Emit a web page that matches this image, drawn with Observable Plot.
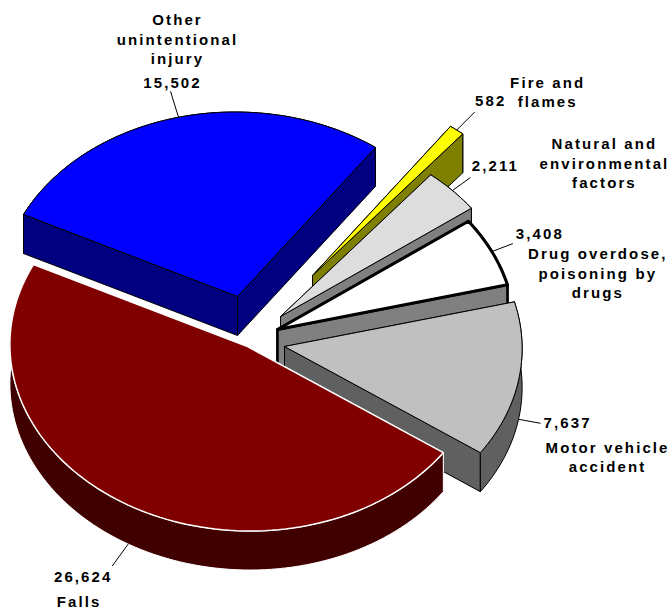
<!DOCTYPE html>
<html>
<head>
<meta charset="utf-8">
<script src="https://cdn.jsdelivr.net/npm/d3@7"></script>
<script src="https://cdn.jsdelivr.net/npm/@observablehq/plot@0.6"></script>
<style>
html,body{margin:0;padding:0;background:#fff;overflow:hidden}
svg{display:block}
</style>
</head>
<body>
<div id="chart"></div>
<script>
// Data, in pie order
const categories = ["Other\nunintentional\ninjury", "Fire and\nflames", "Natural and\nenvironmental\nfactors", "Drug overdose,\npoisoning by\ndrugs", "Motor vehicle\naccident", "Falls"];
const values = [15502, 582, 2211, 3408, 7637, 26624];

// Styles
const topColors = ["#0000ff", "#ffff00", "#dddddd", "#ffffff", "#c0c0c0", "#800000"];
const wallColors = ["#000080", "#808000", "#808080", "#808080", "#606060", "#400000"];
const edgeColors = ["#000", "#000", "#000", "#000", "#000", "#fff"];
const edgeWidths = [1, 1, 1, 3, 1, 1.5];
const wallEdgeWidths = [1, 1, 1, 2.5, 1, 1];

// Layout: how far each slice is pulled from the pie centre, and where its labels sit
const center = [265, 330];
const pullX = [-28, 47, 15, 12, 19, -18];
const pullY = [-34, -55, -14, -1, 16, 16];
const depth = 39;
const axisA = [-214, -82];
const axisB = [103.3, -165.3];
const frontFacing = [false, false, false, false, true, true];
const leaderDx = [-8, 18, 18, 21, 22, -16];
const leaderDy = [-26, -18, -13, -8, 4, 22];
const valueDx = [-6, 34, 43, 48, 49, -45];
const valueDy = [-36, -30, -26, -19, 2, 32];
const nameDx = [-1, 91, 152, 106, 89, -49];
const nameDy = [-79, -39, -28, 21, 37, 57];

const total = d3.sum(values);
const rad = v => v / total * 2 * Math.PI;
const onRim = (t, ox, oy) => [
  ox + axisA[0] * Math.cos(t) + axisB[0] * Math.sin(t),
  oy + axisA[1] * Math.cos(t) + axisB[1] * Math.sin(t)
];
const poly = pts => pts.map(([x, y]) => ({x, y}));

const marks = [];
const annotations = [];
let acc = 0;
values.forEach((v, i) => {
  const t0 = acc, t1 = acc + rad(v);
  acc = t1;
  const ox = center[0] + pullX[i], oy = center[1] + pullY[i];
  const n = Math.max(4, Math.ceil((t1 - t0) / 0.03));
  const rim = d3.range(n + 1).map(k => onRim(t0 + (t1 - t0) * k / n, ox, oy));
  const lower = rim.map(([x, y]) => [x, y + depth]).reverse();
  const wallStyle = {x: "x", y: "y", fill: wallColors[i], stroke: edgeColors[i], strokeWidth: wallEdgeWidths[i], curve: "linear"};
  const close = p => [...p, p[0]];
  const rimWall = Plot.line(poly(close([...rim, ...lower])), wallStyle);
  const edgeWalls = [rim[0], rim[n]].map(e =>
    Plot.line(poly(close([[ox, oy], e, [e[0], e[1] + depth], [ox, oy + depth]])), wallStyle));
  if (frontFacing[i]) marks.push(...edgeWalls, rimWall);
  else marks.push(rimWall, ...edgeWalls);
  marks.push(Plot.line(poly(close([[ox, oy], ...rim])), {
    x: "x", y: "y", fill: topColors[i], stroke: edgeColors[i], strokeWidth: edgeWidths[i], curve: "linear"
  }));
  const [mx, my0] = onRim((t0 + t1) / 2, ox, oy);
  const my = my0 + (frontFacing[i] ? depth : 0);
  annotations.push({
    x1: mx, y1: my, x2: mx + leaderDx[i], y2: my + leaderDy[i],
    vx: mx + valueDx[i], vy: my + valueDy[i], value: d3.format(",")(v),
    nx: mx + nameDx[i], ny: my + nameDy[i], name: categories[i]
  });
});

const textStyle = {fill: "#000", fontFamily: "Liberation Sans", fontWeight: "bold", fontSize: 15, lineHeight: 1.3};
marks.push(
  Plot.link(annotations, {x1: "x1", y1: "y1", x2: "x2", y2: "y2", stroke: "#000", strokeWidth: 1}),
  Plot.text(annotations, {x: "vx", y: "vy", text: "value", textAnchor: "middle", ...textStyle}),
  Plot.text(annotations, {x: "nx", y: "ny", text: "name", textAnchor: "middle", ...textStyle})
);

const chart = Plot.plot({
  width: 671,
  height: 609,
  margin: 0,
  x: {domain: [0, 671], range: [0, 671], axis: null},
  y: {domain: [0, 609], range: [0, 609], axis: null},
  style: {background: "#fff", letterSpacing: "2.1px"},
  marks
});
document.getElementById("chart").append(chart);
</script>
</body>
</html>
